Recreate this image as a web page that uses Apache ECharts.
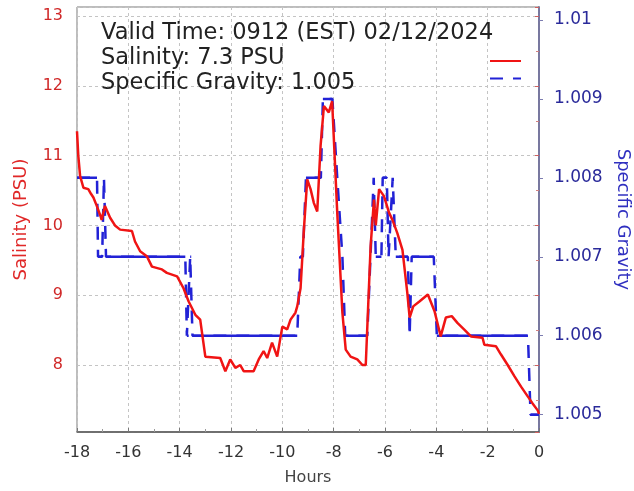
<!DOCTYPE html>
<html><head><meta charset="utf-8">
<script src="https://cdn.jsdelivr.net/npm/echarts@6/dist/echarts.min.js"></script>
<style>html,body{margin:0;padding:0;background:#fff}#c{width:634px;height:491px}</style>
</head><body><div id="c"></div>
<script>
// Salinity (PSU) vs hours
const salHours = [-18.0,-17.95,-17.88,-17.75,-17.56,-17.45,-17.36,-17.23,-17.1,-17.04,-16.91,-16.71,-16.52,-16.32,-15.86,-15.74,-15.54,-15.28,-15.08,-14.69,-14.5,-14.1,-13.85,-13.65,-13.39,-13.2,-13.0,-12.42,-12.22,-12.03,-11.83,-11.64,-11.5,-11.12,-10.92,-10.73,-10.59,-10.4,-10.2,-10.0,-9.81,-9.68,-9.49,-9.42,-9.29,-9.16,-9.03,-8.9,-8.77,-8.64,-8.51,-8.38,-8.19,-8.06,-7.86,-7.66,-7.53,-7.34,-7.08,-6.88,-6.75,-6.56,-6.43,-6.36,-6.23,-6.04,-5.84,-5.71,-5.52,-5.32,-5.13,-5.04,-4.9,-4.66,-4.33,-4.07,-3.83,-3.63,-3.4,-3.17,-2.92,-2.65,-2.2,-2.13,-1.68,-1.48,-1.22,-0.96,-0.7,-0.44,-0.25,-0.05,0.0];
const salValues = [11.35,11.0,10.71,10.54,10.52,10.45,10.40,10.28,10.15,10.08,10.28,10.11,10.0,9.94,9.92,9.77,9.63,9.56,9.41,9.37,9.32,9.27,9.1,8.91,8.72,8.65,8.12,8.10,7.91,8.08,7.96,8.0,7.91,7.91,8.08,8.2,8.1,8.32,8.12,8.55,8.51,8.65,8.75,8.84,9.1,9.94,10.66,10.52,10.32,10.2,11.14,11.71,11.62,11.78,10.18,8.75,8.22,8.12,8.08,8.0,8.0,9.70,10.37,10.0,10.52,10.42,10.18,10.08,9.89,9.65,9.03,8.68,8.84,8.91,9.01,8.77,8.41,8.68,8.70,8.60,8.51,8.41,8.39,8.29,8.27,8.15,8.0,7.84,7.69,7.55,7.45,7.35,7.3];
// Specific gravity vs hours (vertices of the plotted line)
const sgHours = [-18.0,-17.22,-17.18,-17.02,-16.95,-16.87,-13.78,-13.72,-13.65,-13.59,-13.55,-13.5,-9.42,-9.3,-9.2,-9.08,-8.5,-8.42,-8.05,-7.86,-7.66,-7.55,-6.69,-6.44,-6.36,-6.14,-6.09,-5.93,-5.86,-5.70,-5.58,-5.11,-5.04,-4.96,-4.10,-3.98,-0.43,-0.33,0.0];
const sgValues = [1.008,1.008,1.007,1.007,1.008,1.007,1.007,1.006,1.006,1.007,1.007,1.006,1.006,1.007,1.007,1.008,1.008,1.009,1.009,1.008,1.007,1.006,1.006,1.008,1.007,1.007,1.008,1.008,1.007,1.008,1.007,1.007,1.006,1.007,1.007,1.006,1.006,1.005,1.005];
const infoLines = ['Valid Time: 0912 (EST) 02/12/2024','Salinity: 7.3 PSU','Specific Gravity: 1.005'];

const RED = '#f01414', BLUE = '#2222d6';
const FONT = 'DejaVu Sans';
const salData = salHours.map((h,i)=>[h, salValues[i]]);
const sgData = sgHours.map((h,i)=>[h, sgValues[i]]);
// solid horizontal runs (short segments render solid in the original)
const sgFlat = [];
for (let i=0;i<sgHours.length-1;i++){
  if (sgValues[i]===sgValues[i+1]) { sgFlat.push([sgHours[i],sgValues[i]],[sgHours[i+1],sgValues[i+1]],[null,null]); }
}

const chart = echarts.init(document.getElementById('c'), null, {renderer:'canvas'});
chart.setOption({
  animation:false,
  backgroundColor:'#fff',
  textStyle:{fontFamily:FONT},
  grid:{left:77,right:95,top:7,bottom:59,show:true,borderColor:'#7a7a7a',borderWidth:1,outerBoundsMode:'none',containLabel:false},
  title:{text:infoLines.join('\n'),left:96,top:16,textStyle:{fontFamily:FONT,fontSize:22.5,fontWeight:'normal',color:'#222',lineHeight:25}},
  legend:{data:['Salinity','Specific Gravity'],orient:'vertical',left:484,top:49,itemWidth:31,itemHeight:14,itemGap:5,formatter:()=>'',textStyle:{fontSize:1},selectedMode:false,
    itemStyle:{opacity:0}},
  xAxis:{type:'value',min:-18,max:0,interval:2,
    axisLine:{lineStyle:{color:'#555',width:1.5}},
    axisTick:{inside:true,length:4,lineStyle:{color:'#777'}},
    minorTick:{show:true,splitNumber:2,length:3,lineStyle:{color:'#999'}},
    axisLabel:{fontFamily:FONT,fontSize:16,color:'#333',margin:13},
    splitLine:{show:true,lineStyle:{color:'#c4c4c4',type:[3,3]}},
    name:'Hours',nameLocation:'middle',nameGap:38,nameTextStyle:{fontFamily:FONT,fontSize:16,color:'#444'}},
  yAxis:[
    {type:'value',min:7.04,max:13.13,position:'left',
      axisLine:{show:true,lineStyle:{color:'#555',width:1.5}},
      axisTick:{show:true,length:4,lineStyle:{color:'#d06060'}},
      minorTick:{show:true,splitNumber:2,length:3,lineStyle:{color:'#d08080'}},
      axisLabel:{fontFamily:FONT,fontSize:16,color:'#d02828',margin:14,showMinLabel:false,showMaxLabel:false},
      splitLine:{show:true,lineStyle:{color:'#c4c4c4',type:[3,3]}},
      name:'Salinity (PSU)',nameLocation:'middle',nameGap:47,nameTextStyle:{fontFamily:FONT,fontSize:18,color:'#e02828'}},
    {type:'value',min:1.00478,max:1.010165,position:'right',
      axisLine:{show:true,lineStyle:{color:'#7c7cb0',width:1.5}},
      axisTick:{show:true,length:4,lineStyle:{color:'#7c7cb0'}},
      minorTick:{show:false},
      axisLabel:{fontFamily:FONT,fontSize:17,color:'#2a2a9a',margin:15,showMinLabel:false,showMaxLabel:false},
      splitLine:{show:false},
      name:'Specific Gravity',nameLocation:'middle',nameGap:74,nameRotate:-90,nameTextStyle:{fontFamily:FONT,fontSize:18,color:'#3030c0'}}
  ],
  series:[
    {name:'Specific Gravity',type:'line',yAxisIndex:1,data:sgData,symbol:'none',z:2,
      lineStyle:{color:BLUE,width:2.5,type:[13,10]},itemStyle:{color:BLUE}},
    {name:'sgFlat',type:'line',yAxisIndex:1,data:sgFlat,symbol:'none',z:2,connectNulls:false,
      lineStyle:{color:BLUE,width:2.5},itemStyle:{color:BLUE}},
    {name:'Salinity',type:'line',yAxisIndex:0,data:salData,symbol:'none',z:3,
      lineStyle:{color:RED,width:2.5},itemStyle:{color:RED}}
  ]
});
</script></body></html>
